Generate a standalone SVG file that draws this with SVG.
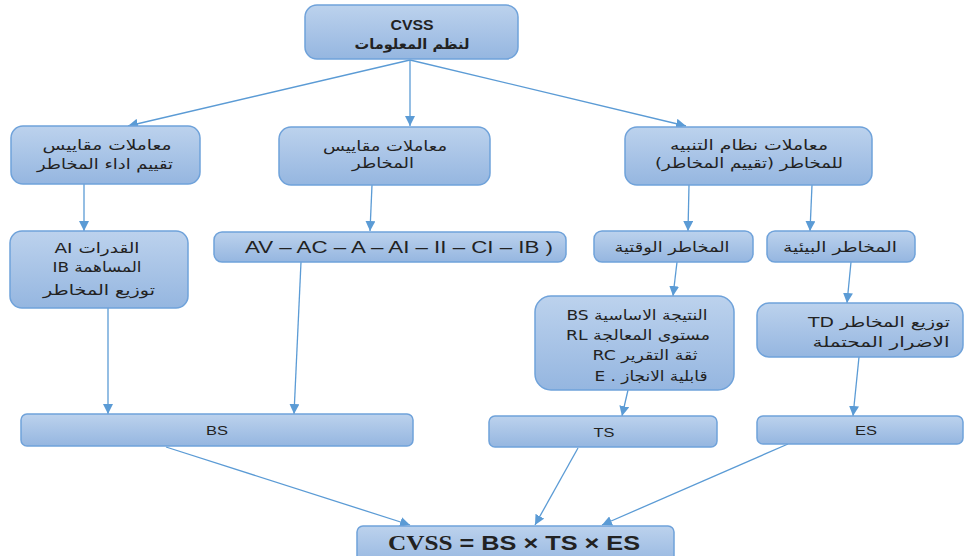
<svg xmlns="http://www.w3.org/2000/svg" width="965" height="556" viewBox="0 0 965 556">
<defs>
<linearGradient id="g" x1="0" y1="0" x2="0" y2="1">
<stop offset="0" stop-color="#bcd2ed"/>
<stop offset="1" stop-color="#95b6e0"/>
</linearGradient>
<marker id="ah" markerUnits="userSpaceOnUse" markerWidth="11" markerHeight="10" refX="10" refY="5" orient="auto">
<path d="M0,0 L10,5 L0,10 z" fill="#5b9bd5"/>
</marker>
<style>
.box{fill:url(#g);stroke:#6fa2da;stroke-width:1.5}
.ar{font-family:"DejaVu Sans",sans-serif;font-size:14px;fill:#222;text-anchor:middle;direction:rtl}
.la{font-family:"Liberation Sans",Arial,sans-serif;font-size:13px;fill:#222;text-anchor:middle}
.cn line{stroke:#5b9bd5;stroke-width:1.3;marker-end:url(#ah)}
</style>
</defs>
<rect width="965" height="556" fill="#ffffff"/>

<g class="cn">
<line x1="410" y1="60" x2="128" y2="126"/>
<line x1="410" y1="60" x2="410" y2="126"/>
<line x1="410" y1="60" x2="686" y2="126"/>
<line x1="84" y1="184" x2="84" y2="231"/>
<line x1="372" y1="185" x2="370" y2="231"/>
<line x1="689" y1="185" x2="688" y2="231"/>
<line x1="812" y1="185" x2="810" y2="231"/>
<line x1="108" y1="308" x2="108" y2="414"/>
<line x1="301" y1="262" x2="294" y2="414"/>
<line x1="677" y1="262" x2="673" y2="296"/>
<line x1="851" y1="262" x2="847" y2="303"/>
<line x1="628" y1="390" x2="622" y2="416"/>
<line x1="859" y1="357" x2="853" y2="416"/>
<line x1="166" y1="447" x2="410" y2="525"/>
<line x1="578" y1="448" x2="535" y2="525"/>
<line x1="788" y1="444" x2="602" y2="525"/>
</g>

<g id="n-top">
<rect class="box" x="305" y="5" width="213" height="54" rx="12"/>
<text class="la" x="412" y="30" style="font-size:14px;font-weight:bold" textLength="43" lengthAdjust="spacingAndGlyphs">CVSS</text>
<text class="ar" x="412" y="49" style="font-weight:bold" textLength="115" lengthAdjust="spacingAndGlyphs">لنظم المعلومات</text>
</g>

<g id="n-left2">
<rect class="box" x="11" y="126" width="189" height="58" rx="12"/>
<text class="ar" x="107" y="150" textLength="129" lengthAdjust="spacingAndGlyphs">معاملات مقاييس</text>
<text class="ar" x="105" y="169" textLength="136" lengthAdjust="spacingAndGlyphs">تقييم اداء المخاطر</text>
</g>

<g id="n-mid2">
<rect class="box" x="279" y="127" width="211" height="58" rx="12"/>
<text class="ar" x="385" y="151" textLength="124" lengthAdjust="spacingAndGlyphs">معاملات مقاييس</text>
<text class="ar" x="383" y="168" textLength="62" lengthAdjust="spacingAndGlyphs">المخاطر</text>
</g>

<g id="n-right2">
<rect class="box" x="625" y="127" width="247" height="58" rx="12"/>
<text class="ar" x="749" y="150" textLength="158" lengthAdjust="spacingAndGlyphs">معاملات نظام التنبيه</text>
<text class="ar" x="749" y="168" textLength="188" lengthAdjust="spacingAndGlyphs">للمخاطر (تقييم المخاطر)</text>
</g>

<g id="n-left3">
<rect class="box" x="10" y="231" width="178" height="77" rx="12"/>
<text class="ar" x="97" y="253" textLength="85" lengthAdjust="spacingAndGlyphs">القدرات AI</text>
<text class="ar" x="97" y="272" textLength="89" lengthAdjust="spacingAndGlyphs">المساهمة IB</text>
<text class="ar" x="99" y="295" textLength="112" lengthAdjust="spacingAndGlyphs">توزيع المخاطر</text>
</g>

<g id="n-mid3">
<rect class="box" x="214" y="232" width="352" height="30" rx="8"/>
<text class="la" x="399" y="253" style="font-size:16px" textLength="308" lengthAdjust="spacingAndGlyphs">AV – AC – A – AI – II – CI – IB  )</text>
</g>

<g id="n-temporal">
<rect class="box" x="594" y="231" width="159" height="31" rx="8"/>
<text class="ar" x="672" y="252" textLength="115" lengthAdjust="spacingAndGlyphs">المخاطر الوقتية</text>
</g>

<g id="n-env">
<rect class="box" x="767" y="231" width="148" height="31" rx="8"/>
<text class="ar" x="840" y="252" textLength="114" lengthAdjust="spacingAndGlyphs">المخاطر البيئية</text>
</g>

<g id="n-tsparams">
<rect class="box" x="535" y="296" width="199" height="94" rx="16"/>
<text class="ar" x="637" y="320" textLength="141" lengthAdjust="spacingAndGlyphs">النتيجة الاساسية BS</text>
<text class="ar" x="638" y="340" textLength="144" lengthAdjust="spacingAndGlyphs">مستوى المعالجة RL</text>
<text class="ar" x="645" y="360" textLength="105" lengthAdjust="spacingAndGlyphs">ثقة التقرير RC</text>
<text class="ar" x="651" y="381" textLength="113" lengthAdjust="spacingAndGlyphs">قابلية الانجاز . E</text>
</g>

<g id="n-esparams">
<rect class="box" x="757" y="303" width="206" height="54" rx="12"/>
<text class="ar" x="879" y="327" textLength="142" lengthAdjust="spacingAndGlyphs">توزيع المخاطر TD</text>
<text class="ar" x="881" y="347" textLength="137" lengthAdjust="spacingAndGlyphs">الاضرار المحتملة</text>
</g>

<g id="n-bs">
<rect class="box" x="21" y="414" width="392" height="32" rx="6"/>
<text class="la" x="217" y="435" textLength="22" lengthAdjust="spacingAndGlyphs">BS</text>
</g>

<g id="n-ts">
<rect class="box" x="489" y="416" width="228" height="31" rx="6"/>
<text class="la" x="604" y="437" textLength="21" lengthAdjust="spacingAndGlyphs">TS</text>
</g>

<g id="n-es">
<rect class="box" x="757" y="416" width="206" height="28" rx="6"/>
<text class="la" x="866" y="435" textLength="22" lengthAdjust="spacingAndGlyphs">ES</text>
</g>

<g id="n-final">
<rect class="box" x="357" y="526" width="317" height="40" rx="6"/>
<text class="la" x="514" y="550" style="font-size:20px;font-weight:bold" textLength="252" lengthAdjust="spacingAndGlyphs"><tspan style="font-family:'Liberation Serif',serif">CVSS</tspan> = BS × TS × ES</text>
</g>
</svg>
